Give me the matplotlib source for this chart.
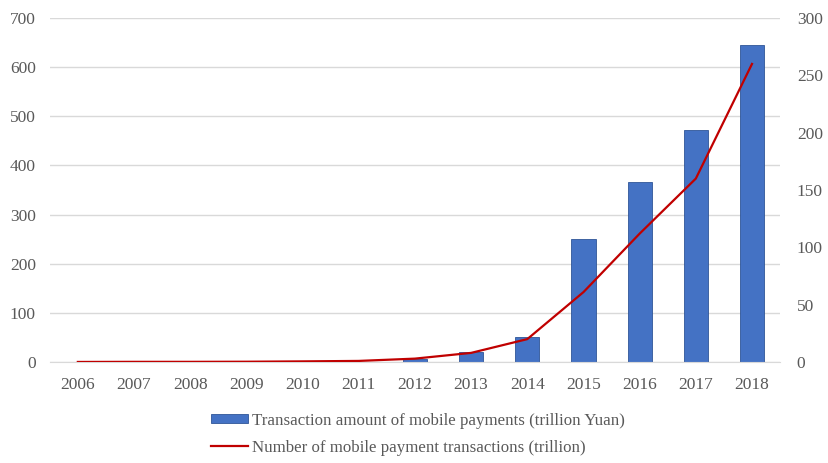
import numpy as np
import matplotlib.pyplot as plt

plt.rcParams['font.family'] = ['Liberation Serif', 'DejaVu Serif']

years = ['2006', '2007', '2008', '2009', '2010', '2011', '2012',
         '2013', '2014', '2015', '2016', '2017', '2018']
amount = [0.2, 0.3, 0.3, 0.4, 0.5, 1, 6, 20, 52, 250, 367, 472, 646]
count = [0.1, 0.2, 0.2, 0.3, 0.6, 1, 3, 8, 20, 61, 112, 160, 260]

fig = plt.figure(figsize=(8.29, 4.63), dpi=100)
ax = fig.add_axes([0.060, 0.218, 0.881, 0.743])
x = np.arange(len(years))

ax.bar(x, amount, width=0.43, color='#4472c4', edgecolor='#2f5597', linewidth=0.6,
       label='Transaction amount of mobile payments (trillion Yuan)', zorder=2)
ax.set_ylim(0, 700)
ax.set_yticks(range(0, 701, 100))
ax.set_xlim(-0.5, len(years) - 0.5)
ax.set_xticks(x)
ax.set_xticklabels(years)
ax.grid(axis='y', color='#d9d9d9', linewidth=1, zorder=0)
ax.set_axisbelow(True)

ax2 = ax.twinx()
ax2.plot(x, count, color='#c00000', linewidth=1.6,
         label='Number of mobile payment transactions (trillion)')
ax2.set_ylim(0, 300)
ax2.set_yticks(range(0, 301, 50))

for a in (ax, ax2):
    for s in ['top', 'left', 'right', 'bottom']:
        a.spines[s].set_visible(False)
    a.tick_params(length=0, labelsize=12.5, colors='#595959', pad=6)
ax.spines['bottom'].set_visible(True)
ax.spines['bottom'].set_color('#d9d9d9')
ax.tick_params(axis='x', pad=11)
ax.tick_params(axis='y', pad=10)
ax2.tick_params(axis='y', pad=12)

h1, l1 = ax.get_legend_handles_labels()
h2, l2 = ax2.get_legend_handles_labels()
fig.legend(h1 + h2, l1 + l2, loc='lower center', bbox_to_anchor=(0.504, -0.017),
           ncol=1, frameon=False, fontsize=12.2, labelcolor='#595959',
           handlelength=2.2, handleheight=0.5, handletextpad=0.2, labelspacing=0.65)

fig.savefig('out.png', dpi=100)
